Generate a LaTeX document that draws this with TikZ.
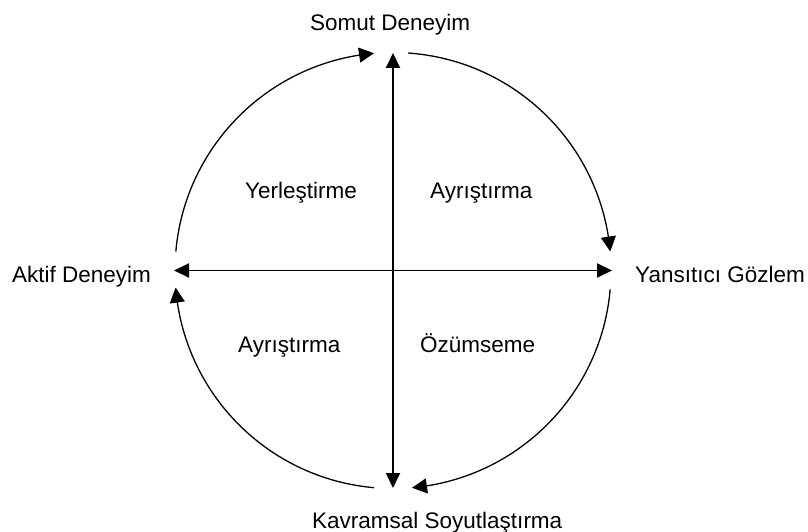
\documentclass[tikz,border=0pt]{standalone}
\usepackage{fontspec}
\setmainfont{Liberation Sans}
\usetikzlibrary{arrows.meta,calc,bending}
\begin{document}
\begin{tikzpicture}[x=1pt,y=-1pt,
  lbl/.style={anchor=base west,inner sep=0pt,font=\fontsize{22.5}{27}\selectfont},
  axis/.style={line width=1.9pt,{Triangle[width=14pt,length=15pt]}-{Triangle[width=14pt,length=15pt]}},
  cyc/.style={line width=1.3pt,-{Triangle[width=15pt,length=15pt,bend]}}]
\useasboundingbox (0,0) rectangle (808,532);
\coordinate (c) at (393,270.5);
\coordinate (top) at (393,53);
\coordinate (bot) at (393,488);
\coordinate (lft) at (174,270.5);
\coordinate (rgt) at (612,270.5);
% labels
\node[lbl] (somut) at (310,31) {Somut Deneyim};
\node[lbl] (yans) at (635,282) {Yansıtıcı Gözlem};
\node[lbl] (aktif) at (12,282) {Aktif Deneyim};
\node[lbl] (kavr) at (312,528) {Kavramsal Soyutlaştırma};
\node[lbl] (yerl) at (245,198) {Yerleştirme};
\node[lbl] (ayr1) at (430,198) {Ayrıştırma};
\node[lbl] (ayr2) at (238,352) {Ayrıştırma};
\node[lbl] (ozum) at (420,352) {Özümseme};
% axes
\draw[axis] (bot) -- (top);
\draw[axis] (lft) -- (rgt);
% cycle arcs
\coordinate (s1) at ($(c)+(-175:218)$);
\coordinate (s2) at ($(c)+(-86:218)$);
\coordinate (s3) at ($(c)+(5:218)$);
\coordinate (s4) at ($(c)+(95:218)$);
\draw[cyc] (s1) arc[start angle=-175,end angle=-95,radius=218];
\draw[cyc] (s2) arc[start angle=-86,end angle=-5,radius=218];
\draw[cyc] (s3) arc[start angle=5,end angle=85,radius=218];
\draw[cyc] (s4) arc[start angle=95,end angle=175.5,radius=218];
\end{tikzpicture}
\end{document}
